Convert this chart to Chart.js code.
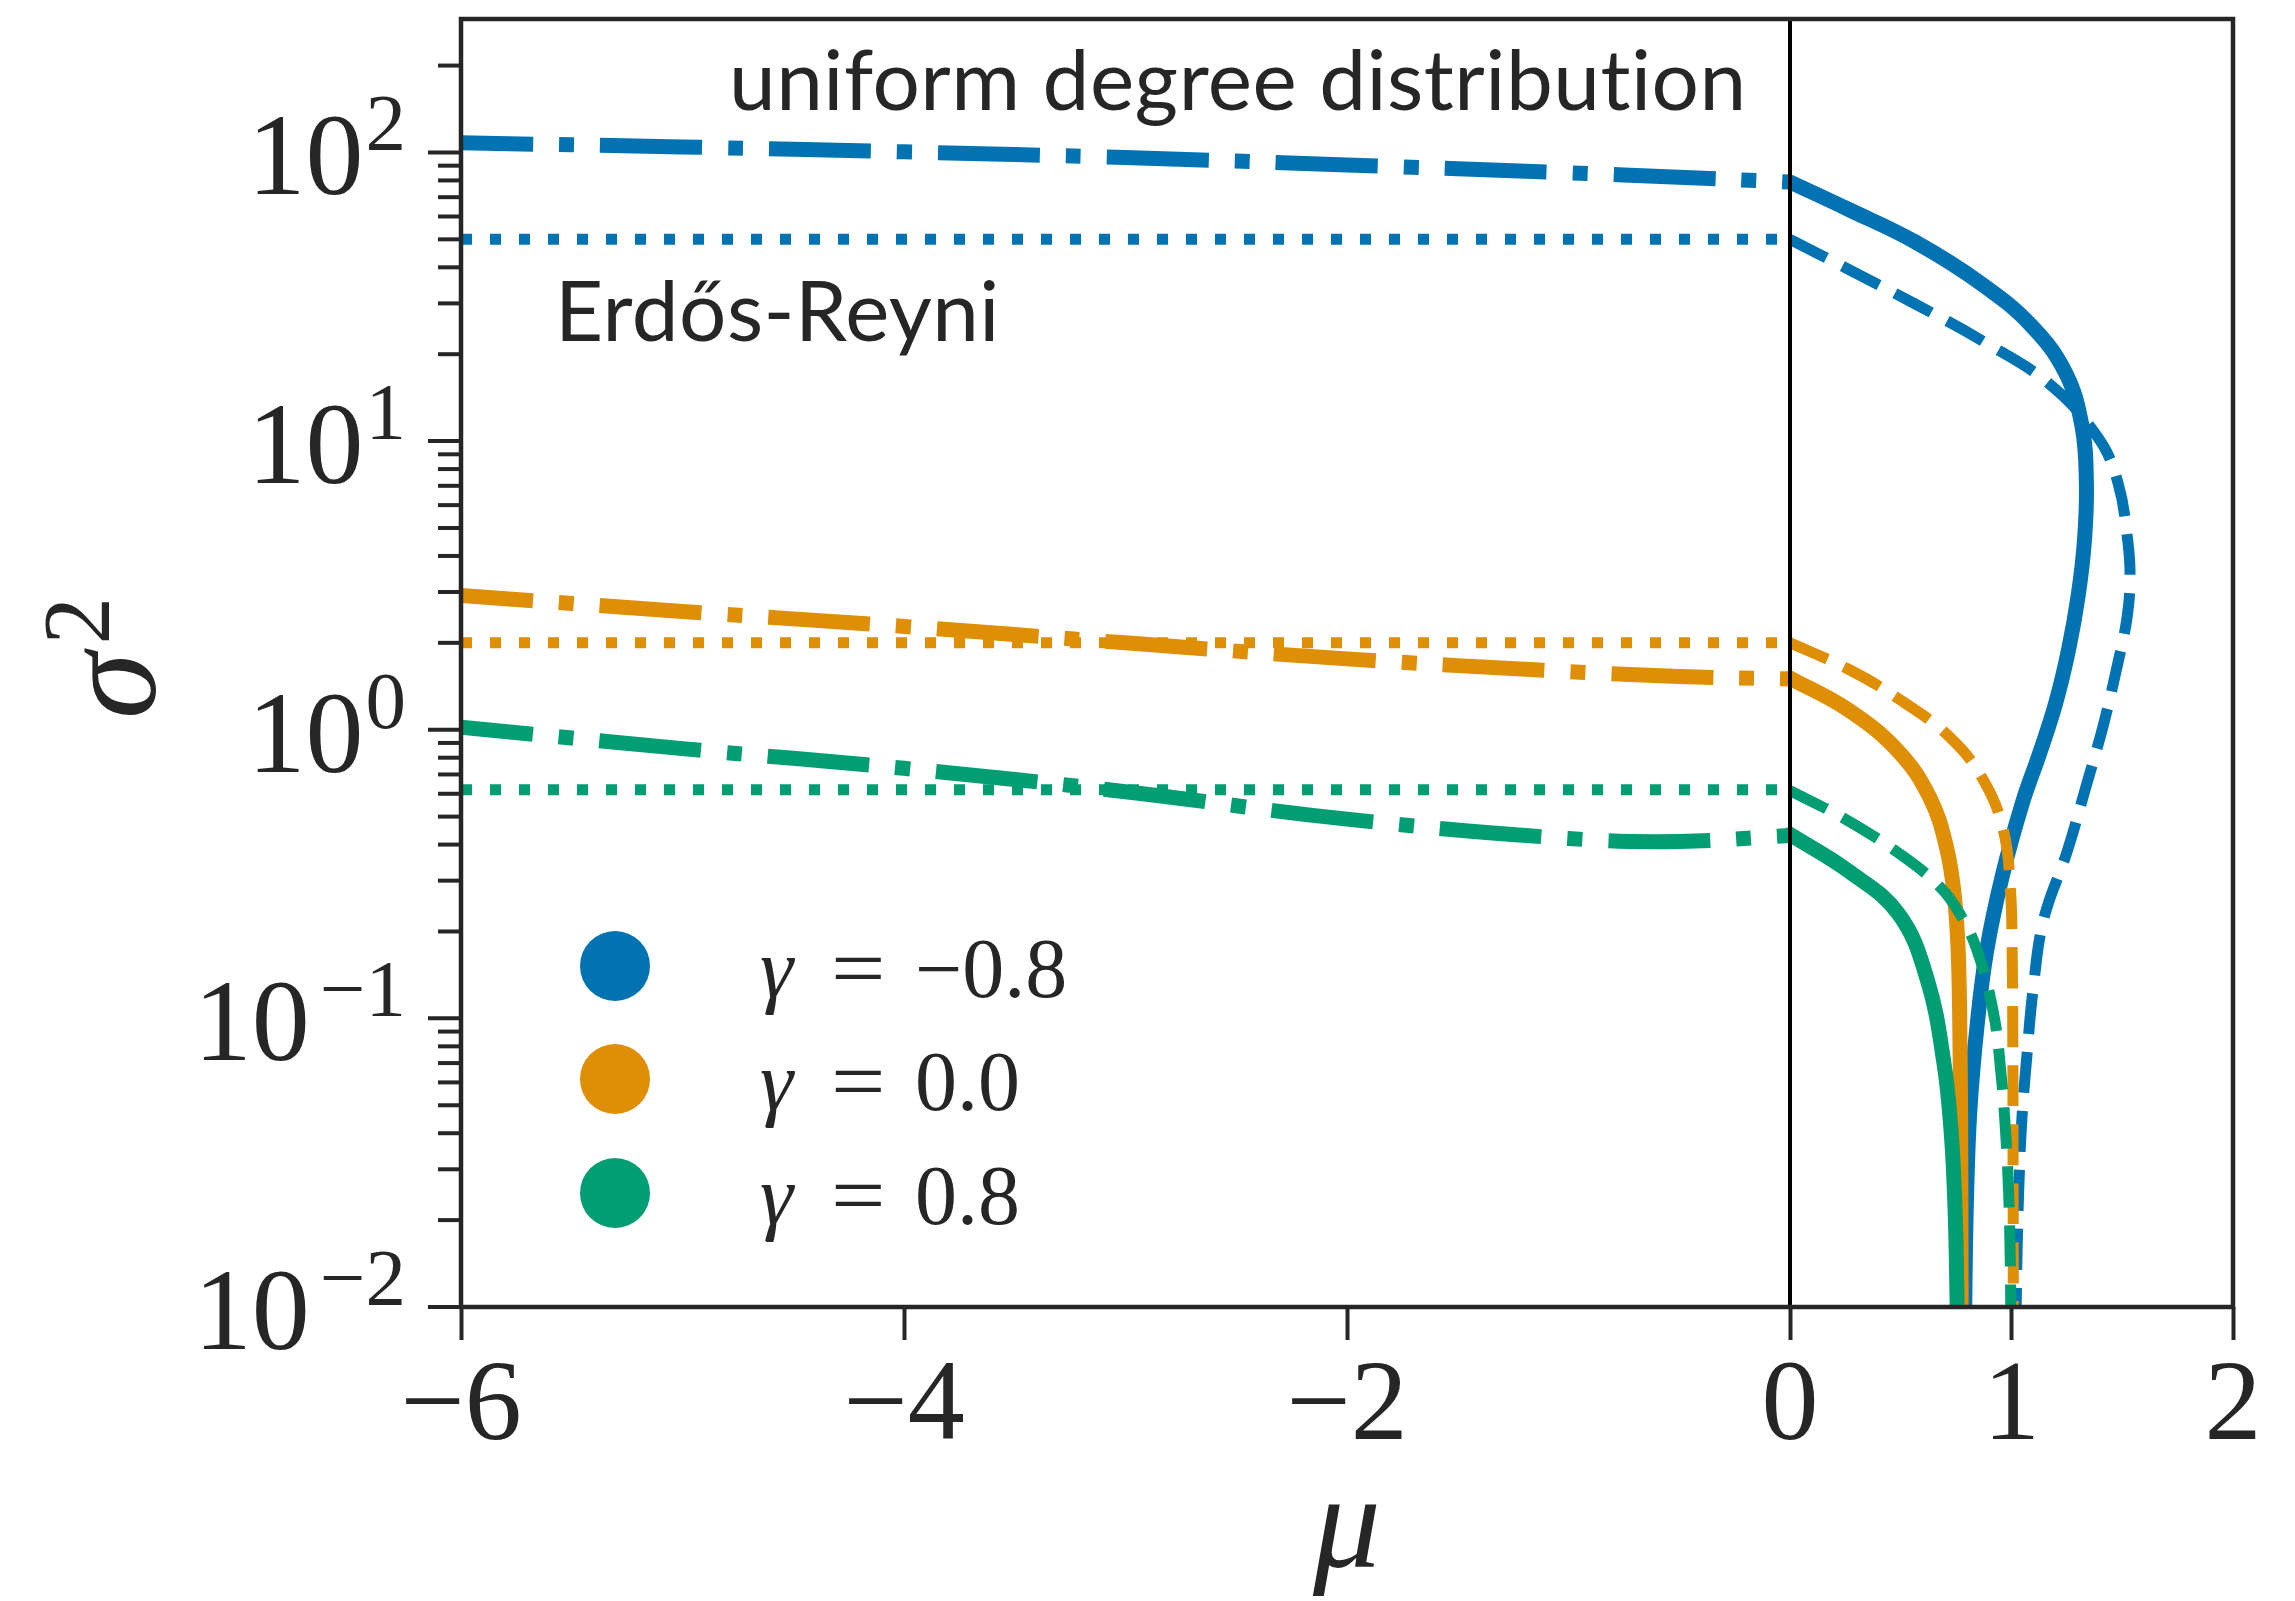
<!DOCTYPE html>
<html>
<head>
<meta charset="utf-8">
<script src="https://cdn.jsdelivr.net/npm/chart.js@4.4.0/dist/chart.umd.min.js"></script>
<style>
  html, body { margin: 0; padding: 0; background: #fff; }
  #chart { display: block; }
</style>
</head>
<body>
<canvas id="chart" width="2295" height="1601"></canvas>
<script>
// tick labels
const xTicks = [-6, -4, -2, 0, 1, 2];
const yExponents = [-2, -1, 0, 1, 2];

// legend
const gammaLabels = ['−0.8', '0.0', '0.8'];
const seriesColors = ['#0173b2', '#de8f05', '#029e73'];

// mu < 0 branch (dash-dot)
const muLeft = [-6, -5, -4, -3, -2, -1, -0.5, 0];
const blueDashDot = [108, 104.5, 100.5, 96, 90.5, 85, 82, 79];
const orangeDashDot = [2.92, 2.57, 2.28, 2.0, 1.76, 1.59, 1.53, 1.50];
const greenDashDot = [1.02, 0.86, 0.735, 0.61, 0.49, 0.42, 0.41, 0.43];

// Erdős-Reyni level (dotted), blue / orange / green
const muER = [-6, 0];
const erdosReyni = [50, 2.0, 0.62];

// mu > 0 branch, solid
const blueSolidMu = [0, 0.264, 0.565, 0.866, 1.092, 1.243, 1.318, 1.338, 1.33, 1.302, 1.258, 1.2, 1.125, 1.05, 0.96, 0.888, 0.845, 0.812, 0.797, 0.79, 0.788];
const blueSolid = [79, 63.5, 49, 35, 25, 17.3, 11.3, 7.2, 4.6, 2.95, 1.9, 1.24, 0.82, 0.56, 0.315, 0.172, 0.095, 0.048, 0.024, 0.012, 0.008];
const orangeSolidMu = [0, 0.264, 0.49, 0.632, 0.707, 0.743, 0.76, 0.768, 0.771, 0.772, 0.773];
const orangeSolid = [1.51, 1.17, 0.84, 0.58, 0.39, 0.26, 0.165, 0.075, 0.035, 0.016, 0.008];
const greenSolidMu = [0, 0.264, 0.49, 0.62, 0.695, 0.728, 0.745, 0.753, 0.756];
const greenSolid = [0.434, 0.324, 0.23, 0.136, 0.07, 0.04, 0.022, 0.012, 0.008];

// mu > 0 branch, dashed
const blueDashedMu = [0, 0.26, 0.56, 0.87, 1.17, 1.39, 1.48, 1.525, 1.535, 1.52, 1.48, 1.415, 1.34, 1.25, 1.145, 1.097, 1.07, 1.047, 1.033, 1.024, 1.02];
const blueDashed = [50, 39.5, 30, 22.2, 15.8, 10.3, 7.2, 4.5, 3.3, 2.4, 1.7, 1.04, 0.65, 0.376, 0.22, 0.125, 0.075, 0.045, 0.026, 0.014, 0.008];
const orangeDashedMu = [0, 0.264, 0.49, 0.723, 0.873, 0.963, 0.995, 1.003, 1.006, 1.007, 1.008, 1.008];
const orangeDashed = [2.0, 1.62, 1.28, 0.94, 0.67, 0.45, 0.28, 0.17, 0.08, 0.035, 0.015, 0.008];
const greenDashedMu = [0, 0.26, 0.52, 0.68, 0.76, 0.84, 0.918, 0.952, 0.972, 0.987, 0.994, 0.998];
const greenDashed = [0.615, 0.485, 0.36, 0.284, 0.235, 0.176, 0.105, 0.065, 0.042, 0.025, 0.015, 0.008];

const TEXT = '#262626';
const SERIF = '"Liberation Serif", "DejaVu Serif", serif';
const SANS = 'Lato, "Open Sans", "DejaVu Sans", sans-serif';

const STYLE = {
    dashdot: { borderWidth: 15, borderDash: [102, 26, 15, 26], borderDashOffset: 30, borderCapStyle: 'butt', tension: 0.4 },
    dotted: { borderWidth: 11, borderDash: [11, 18], borderCapStyle: 'butt', tension: 0 },
    solid: { borderWidth: 15, borderDash: [], borderCapStyle: 'round', tension: 0.4 },
    dashed: { borderWidth: 11, borderDash: [41, 18], borderCapStyle: 'butt', tension: 0.4 }
};

function pts(xs, ys) {
    return xs.map((x, i) => ({ x: x, y: ys[i] }));
}

function line(label, data, color, style, order) {
    return Object.assign({
        label: label,
        data: data,
        borderColor: color,
        backgroundColor: color,
        showLine: true,
        fill: false,
        pointRadius: 0,
        pointHoverRadius: 0,
        borderJoinStyle: 'round',
        clip: 0,
        order: order
    }, STYLE[style]);
}

const groups = [
    { left: blueDashDot, er: erdosReyni[0], sMu: blueSolidMu, s: blueSolid, dMu: blueDashedMu, d: blueDashed },
    { left: orangeDashDot, er: erdosReyni[1], sMu: orangeSolidMu, s: orangeSolid, dMu: orangeDashedMu, d: orangeDashed },
    { left: greenDashDot, er: erdosReyni[2], sMu: greenSolidMu, s: greenSolid, dMu: greenDashedMu, d: greenDashed }
];

const datasets = [];
groups.forEach((g, i) => {
    const c = seriesColors[i];
    const order = 3 - i; // green on top
    datasets.push(line('dashdot ' + i, pts(muLeft, g.left), c, 'dashdot', order));
    datasets.push(line('ER ' + i, pts(muER, [g.er, g.er]), c, 'dotted', order));
    datasets.push(line('solid ' + i, pts(g.sMu, g.s), c, 'solid', order));
    datasets.push(line('dashed ' + i, pts(g.dMu, g.d), c, 'dashed', order));
});

function fmtNum(v) {
    return v < 0 ? '−' + Math.abs(v) : String(v);
}

function fitFont(ctx, text, width, family) {
    ctx.font = '100px ' + family;
    const w = ctx.measureText(text).width;
    return 100 * width / w;
}

const decor = {
    id: 'decor',
    afterDatasetsDraw(chart) {
        const { ctx, chartArea, scales } = chart;
        const x0 = scales.x.getPixelForValue(0);
        ctx.save();
        ctx.strokeStyle = '#000';
        ctx.lineWidth = 4;
        ctx.beginPath();
        ctx.moveTo(x0, chartArea.top);
        ctx.lineTo(x0, chartArea.bottom);
        ctx.stroke();
        ctx.restore();
    },
    afterDraw(chart) {
        const { ctx, chartArea, scales } = chart;
        const ys = scales.y;
        ctx.save();

        // frame
        ctx.strokeStyle = TEXT;
        ctx.lineWidth = 4.5;
        ctx.strokeRect(chartArea.left, chartArea.top, chartArea.right - chartArea.left, chartArea.bottom - chartArea.top);

        // y ticks, major + minor
        ctx.lineWidth = 4;
        yExponents.forEach(k => {
            for (let m = 1; m <= 9; m++) {
                const v = m * Math.pow(10, k);
                if (v < ys.min || v > ys.max) continue;
                const y = ys.getPixelForValue(v);
                const len = m === 1 ? 33 : 23;
                ctx.beginPath();
                ctx.moveTo(chartArea.left - len, y);
                ctx.lineTo(chartArea.left, y);
                ctx.stroke();
            }
        });

        // y tick labels 10^k
        ctx.fillStyle = TEXT;
        ctx.textAlign = 'right';
        ctx.textBaseline = 'alphabetic';
        const rightEdge = chartArea.left - 55;
        yExponents.forEach(k => {
            const y = ys.getPixelForValue(Math.pow(10, k));
            const ex = fmtNum(k);
            ctx.font = '81px ' + SERIF;
            const w = ctx.measureText(ex).width;
            ctx.fillText(ex, rightEdge, y - 2);
            ctx.font = '116px ' + SERIF;
            ctx.fillText('10', rightEdge - w - (k < 0 ? 10 : 2), y + 42);
        });

        // axis titles
        ctx.save();
        ctx.translate(155, 719);
        ctx.rotate(-Math.PI / 2);
        ctx.textAlign = 'left';
        ctx.font = 'italic 135px ' + SERIF;
        ctx.fillText('σ', 0, 0);
        const sw = ctx.measureText('σ').width;
        ctx.font = '95px ' + SERIF;
        ctx.fillText('2', sw + 8, -46);
        ctx.restore();

        ctx.textAlign = 'center';
        ctx.font = 'italic 135px ' + SERIF;
        ctx.fillText('μ', (chartArea.left + chartArea.right) / 2, 1567);

        // annotations (letter spacing keeps Lato from using its "ti" ligature)
        ctx.textAlign = 'left';
        ctx.letterSpacing = '0.5px';
        const t1 = 'uniform degree distribution';
        ctx.font = fitFont(ctx, t1, 1016, SANS).toFixed(1) + 'px ' + SANS;
        ctx.fillText(t1, 729, 110);
        const t2 = 'Erdős-Reyni';
        ctx.font = fitFont(ctx, t2, 444, SANS).toFixed(1) + 'px ' + SANS;
        ctx.fillText(t2, 555, 341);
        ctx.letterSpacing = '0px';

        // legend
        const rows = [997, 1110, 1224];
        gammaLabels.forEach((lab, i) => {
            const by = rows[i];
            ctx.fillStyle = seriesColors[i];
            ctx.beginPath();
            ctx.arc(615, by - 31, 35, 0, Math.PI * 2);
            ctx.fill();
            ctx.fillStyle = TEXT;
            ctx.textAlign = 'left';
            ctx.font = 'italic 84px ' + SERIF;
            ctx.fillText('γ', 760, by);
            ctx.font = '84px ' + SERIF;
            ctx.save();
            ctx.translate(831, by);
            ctx.scale(1.15, 1);
            ctx.fillText('=', 0, 0);
            ctx.restore();
            ctx.fillText(lab, 915, by);
        });

        ctx.restore();
    }
};

new Chart(document.getElementById('chart'), {
    type: 'scatter',
    data: { datasets: datasets },
    options: {
        responsive: false,
        animation: false,
        devicePixelRatio: 1,
        layout: { padding: { top: 19, right: 62, left: 0, bottom: 0 } },
        plugins: { legend: { display: false }, tooltip: { enabled: false } },
        scales: {
            x: {
                type: 'linear',
                min: -6,
                max: 2,
                afterBuildTicks: axis => { axis.ticks = xTicks.map(v => ({ value: v })); },
                afterFit: scale => { scale.height = 294; },
                grid: { display: true, drawOnChartArea: false, drawTicks: true, tickLength: 33, tickWidth: 4, tickColor: TEXT },
                border: { display: false },
                ticks: {
                    color: TEXT,
                    font: { family: SERIF, size: 114, lineHeight: 1 },
                    padding: 12,
                    maxRotation: 0,
                    autoSkip: false,
                    callback: v => fmtNum(v)
                }
            },
            y: {
                type: 'logarithmic',
                min: 0.01,
                max: 290,
                afterFit: scale => { scale.width = 461; },
                grid: { display: false },
                border: { display: false },
                ticks: { display: false }
            }
        }
    },
    plugins: [decor]
});
</script>
</body>
</html>
